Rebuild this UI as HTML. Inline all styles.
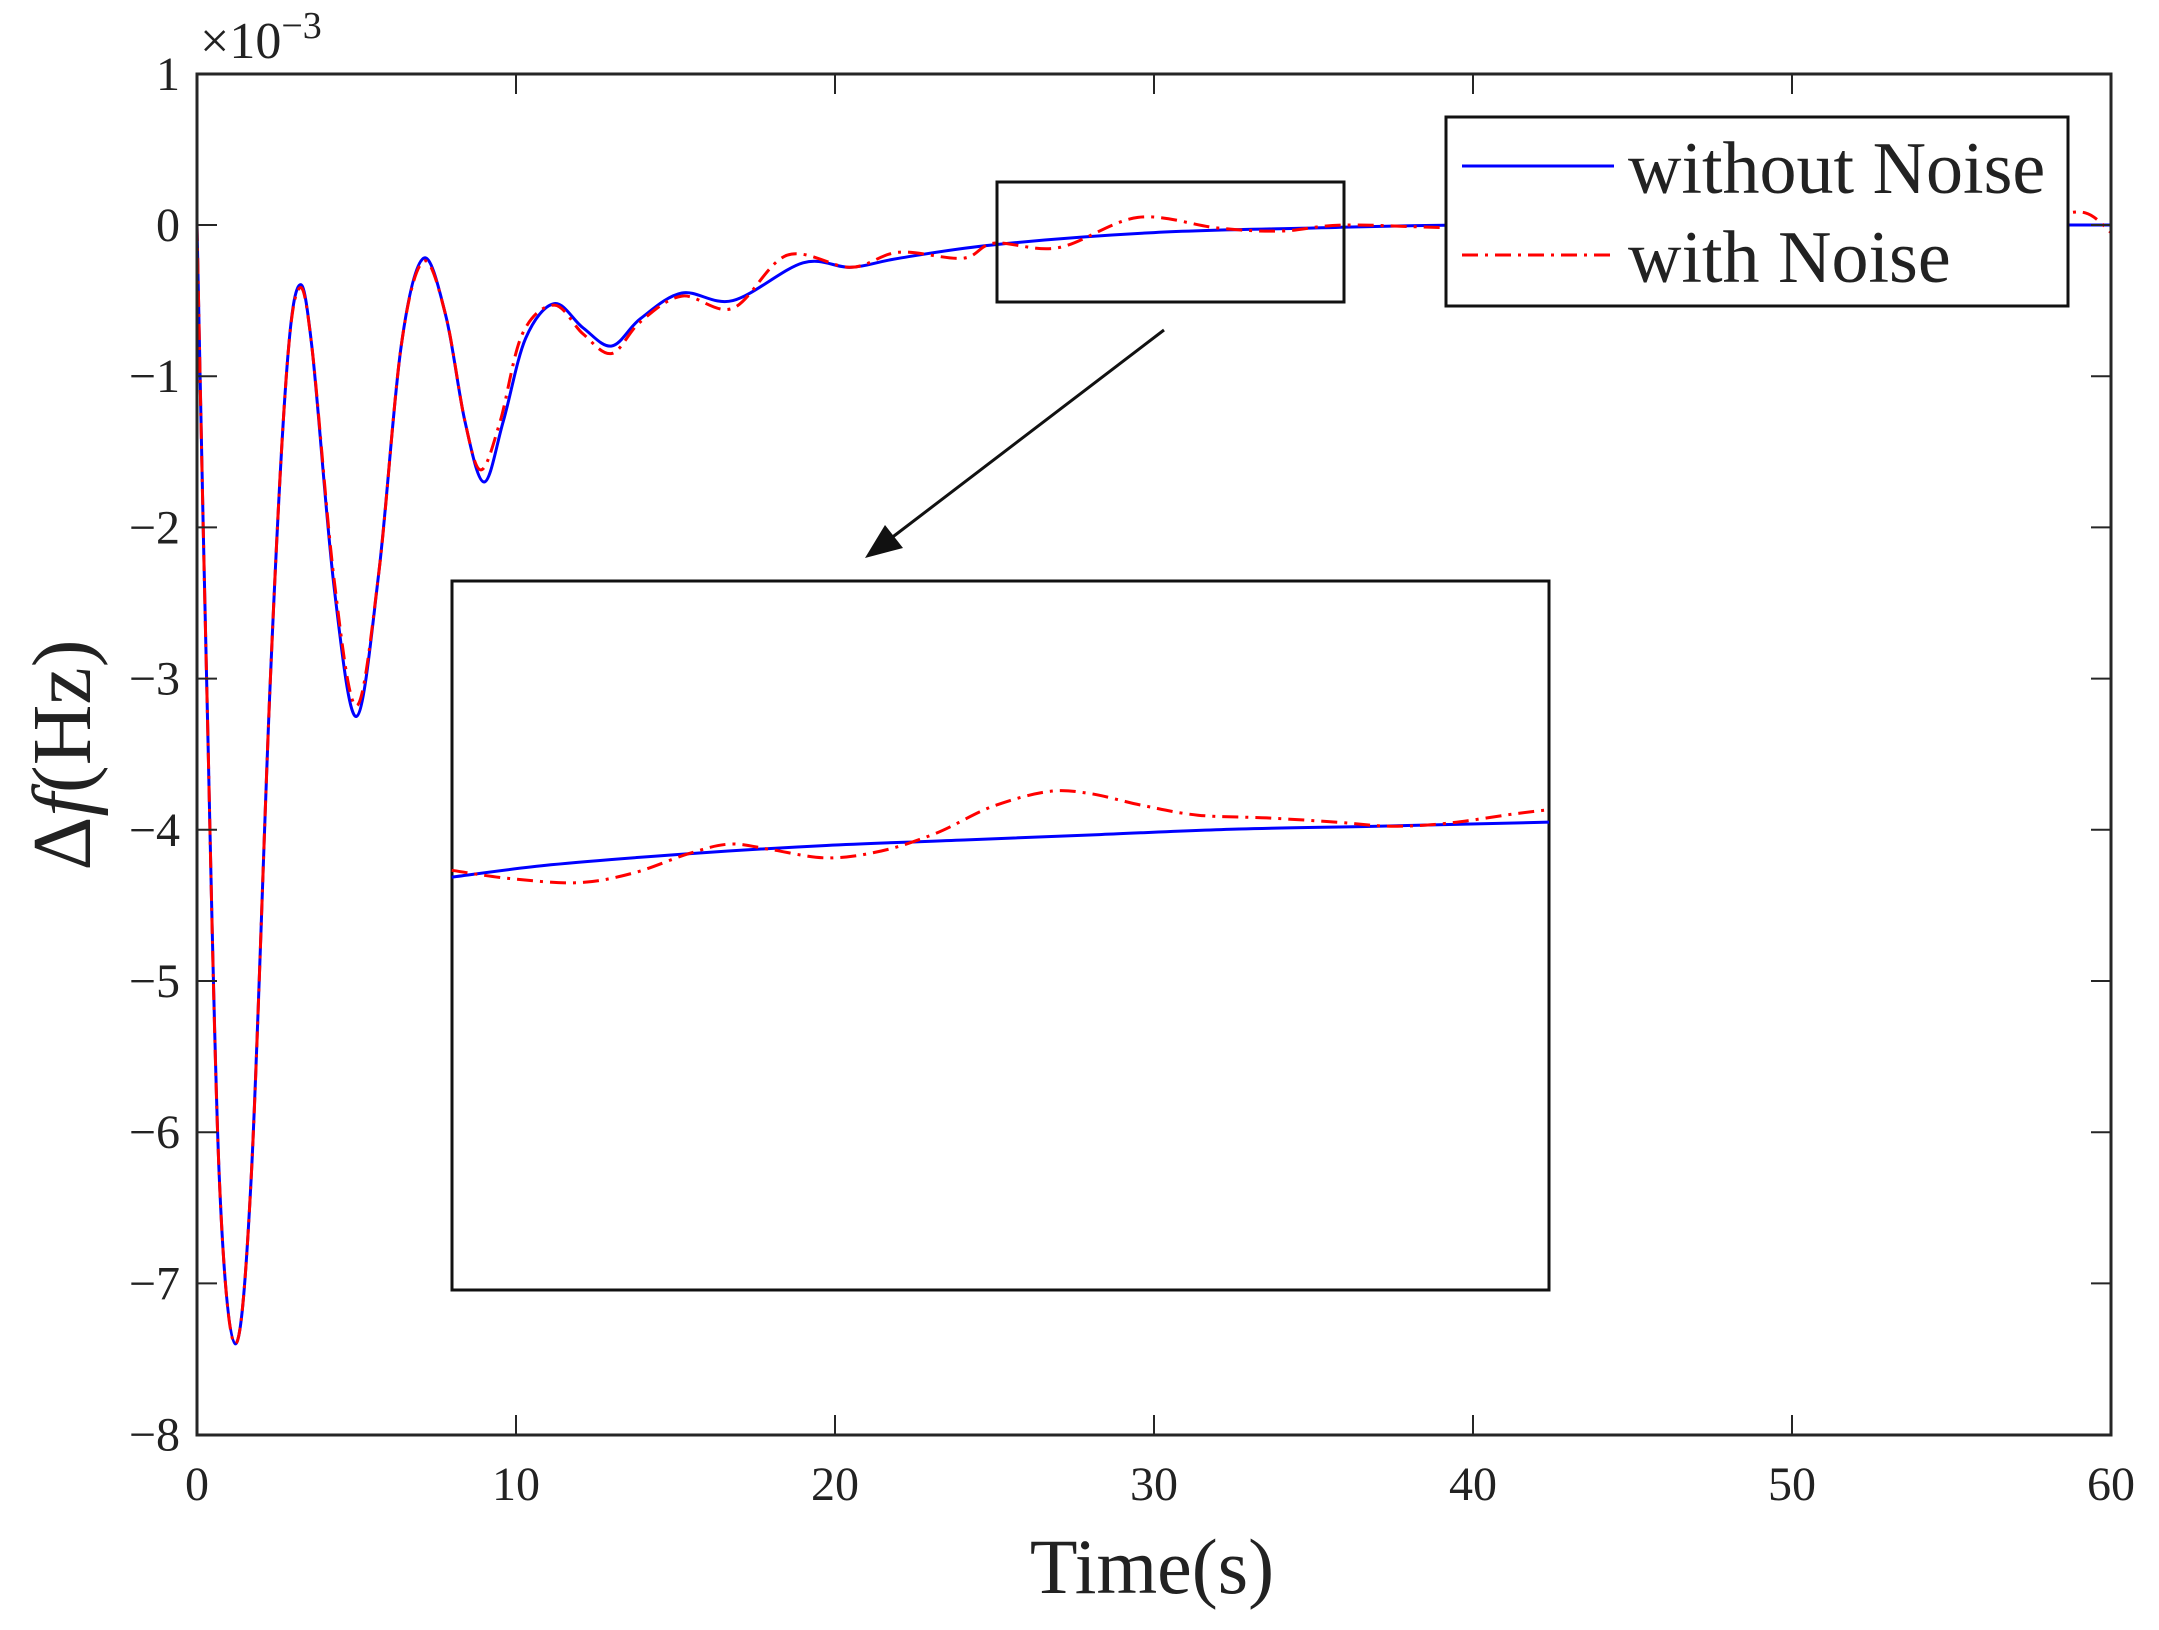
<!DOCTYPE html>
<html><head><meta charset="utf-8"><style>
html,body{margin:0;padding:0;background:#fff;}
svg{display:block;}
text{font-family:"Liberation Serif",serif;fill:#222;}
</style></head><body>
<svg id="s" width="2159" height="1630" viewBox="0 0 2159 1630" xmlns="http://www.w3.org/2000/svg">
<g id="g"></g>
</svg>
<script>
const L=197,R=2111,T=74,B=1435;
const X=t=>L+(R-L)*t/60, Y=v=>225-151.2*v;
function cr(pts){let d='M'+pts[0][0].toFixed(1)+','+pts[0][1].toFixed(1);
for(let i=0;i<pts.length-1;i++){const p0=pts[Math.max(0,i-1)],p1=pts[i],p2=pts[i+1],p3=pts[Math.min(pts.length-1,i+2)];
const c1=[p1[0]+(p2[0]-p0[0])/6,p1[1]+(p2[1]-p0[1])/6],c2=[p2[0]-(p3[0]-p1[0])/6,p2[1]-(p3[1]-p1[1])/6];
d+=' C'+c1.map(v=>v.toFixed(1))+' '+c2.map(v=>v.toFixed(1))+' '+p2[0].toFixed(1)+','+p2[1].toFixed(1);}return d;}
const blue=[[0,0],[0.3,-3],[0.7,-6.3],[1.2,-7.4],[1.7,-6.3],[2.3,-3],[2.8,-1.0],[3.2,-0.4],[3.6,-0.8],[4.3,-2.4],[5.0,-3.25],[5.7,-2.3],[6.4,-0.8],[7.1,-0.22],[7.8,-0.6],[8.4,-1.3],[9.0,-1.7],[9.6,-1.3],[10.3,-0.75],[11.2,-0.52],[12.1,-0.68],[13.0,-0.8],[13.9,-0.62],[15.2,-0.45],[16.8,-0.5],[19.0,-0.25],[20.5,-0.28],[22,-0.22],[25,-0.13],[30,-0.05],[35,-0.02],[40,0],[50,0],[60,0]];
const red=[[0,0],[0.3,-3],[0.7,-6.3],[1.2,-7.4],[1.7,-6.3],[2.3,-3],[2.8,-1.0],[3.2,-0.42],[3.6,-0.8],[4.3,-2.35],[5.0,-3.18],[5.7,-2.3],[6.4,-0.8],[7.1,-0.24],[7.8,-0.6],[8.4,-1.3],[8.9,-1.62],[9.5,-1.3],[10.2,-0.72],[11.2,-0.53],[12.1,-0.72],[13.0,-0.85],[13.9,-0.64],[15.2,-0.47],[16.8,-0.55],[18.5,-0.2],[20.5,-0.28],[22,-0.18],[24,-0.22],[25,-0.12],[27,-0.15],[29.5,0.05],[32,-0.02],[34,-0.04],[36,0.0],[40,-0.02],[45,0],[50,0.02],[55,0],[58,0.06],[59.2,0.08],[60,-0.05]];
let h='';
const s=1.377, S=p=>p.map(q=>[q[0]*s,q[1]*s]);
h+=`<path d="${cr(blue.map(p=>[X(p[0]),Y(p[1])]))}" fill="none" stroke="#0000ff" stroke-width="3"/>`;
h+=`<path d="${cr(red.map(p=>[X(p[0]),Y(p[1])]))}" fill="none" stroke="#ff0000" stroke-width="3" stroke-dasharray="16 7 3 7"/>`;
h+=`<rect x="${L}" y="${T}" width="${R-L}" height="${B-T}" fill="none" stroke="#262626" stroke-width="3"/>`;
for(let i=0;i<=6;i++){const x=X(i*10);h+=`<line x1="${x}" y1="${B}" x2="${x}" y2="${B-20}" stroke="#262626" stroke-width="2"/><line x1="${x}" y1="${T}" x2="${x}" y2="${T+20}" stroke="#262626" stroke-width="2"/><text x="${x}" y="1500" font-size="48" text-anchor="middle">${i*10}</text>`;}
for(let v=1;v>=-8;v--){const y=Y(v);h+=`<line x1="${L}" y1="${y}" x2="${L+20}" y2="${y}" stroke="#262626" stroke-width="2"/><line x1="${R}" y1="${y}" x2="${R-20}" y2="${y}" stroke="#262626" stroke-width="2"/><text x="180" y="${y+16}" font-size="48" text-anchor="end">${v<0?'\u2212'+(-v):v}</text>`;}
h+=`<text x="200" y="58" font-size="52">×10<tspan dy="-20" font-size="38">\u22123</tspan></text>`;
h+=`<text x="1152" y="1593" font-size="78" text-anchor="middle">Time(s)</text>`;
h+=`<text transform="translate(90,755) rotate(-90)" font-size="84" text-anchor="middle">Δ<tspan font-style="italic">f</tspan>(Hz)</text>`;
h+=`<rect x="997" y="182" width="347" height="120" fill="none" stroke="#111" stroke-width="3"/>`;
h+=`<line x1="1164" y1="330" x2="890" y2="539" stroke="#111" stroke-width="3"/><polygon points="865,558 885,525 903,548" fill="#111"/>`;
h+=`<rect x="452" y="581" width="1097" height="709" fill="#fff" stroke="#111" stroke-width="3"/>`;
const ib=[[328,637],[400,628],[500,620],[600,614],[700,610],[800,606],[900,602],[1000,600],[1125,597]];
const ir=[[328,632],[370,638],[420,641],[460,634],[500,620],[530,613],[560,617],[600,623],[640,618],[680,605],[720,586],[760,575],[790,576],[830,585],[870,592],[920,594],[970,597],[1010,600],[1050,598],[1100,591],[1125,588]];
h+=`<path d="${cr(S(ib))}" fill="none" stroke="#0000ff" stroke-width="3"/>`;
h+=`<path d="${cr(S(ir))}" fill="none" stroke="#ff0000" stroke-width="3" stroke-dasharray="16 7 3 7"/>`;
h+=`<rect x="1446" y="117" width="622" height="189" fill="#fff" stroke="#111" stroke-width="3"/>`;
h+=`<line x1="1462" y1="166" x2="1614" y2="166" stroke="#0000ff" stroke-width="3"/>`;
h+=`<line x1="1462" y1="255" x2="1614" y2="255" stroke="#ff0000" stroke-width="3" stroke-dasharray="16 7 3 7"/>`;
h+=`<text x="1628" y="193" font-size="74">without Noise</text><text x="1628" y="282" font-size="74">with Noise</text>`;
document.getElementById('g').innerHTML=h;
</script>
</body></html>
